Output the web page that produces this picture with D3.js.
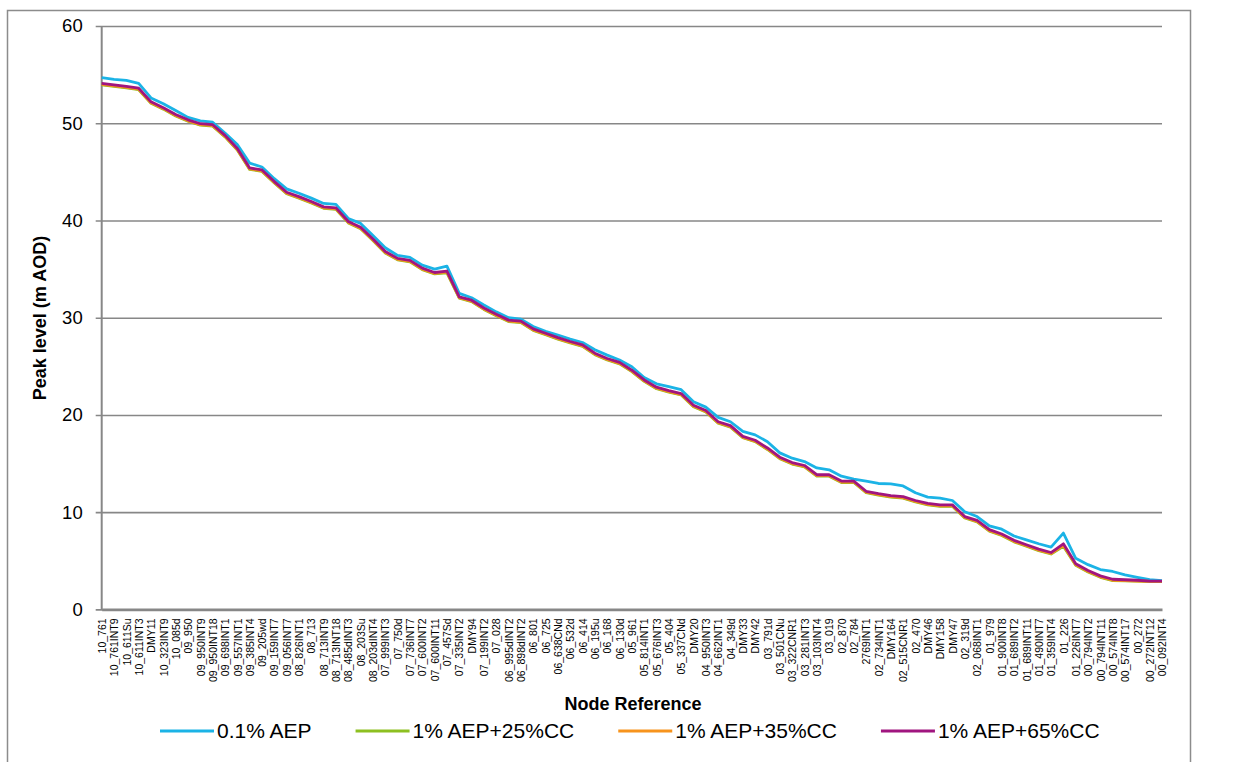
<!DOCTYPE html>
<html>
<head>
<meta charset="utf-8">
<script src="https://cdn.jsdelivr.net/npm/d3@7"></script>
<style>
  body { margin: 0; background: #fff; }
  text { font-family: "Liberation Sans", Arial, sans-serif; fill: #000; }
</style>
</head>
<body>
<script>
// Node labels shown under the axis (one per plotted node)
const nodeLabels = [
  "10_761", "10_761INT9", "10_611Su", "10_611INT3", "DMY11", "10_323INT9", "10_085d", "09_950",
  "09_950INT9", "09_950INT18", "09_698INT1", "09_557INT1", "09_385INT4", "09_205wd", "09_159INT7",
  "09_056INT7", "08_826INT1", "08_713", "08_713INT9", "08_713INT18", "08_485dINT3", "08_203Su",
  "08_203dINT4", "07_999INT3", "07_750d", "07_736INT7", "07_600INT2", "07_600INT11", "07_457Sd",
  "07_335INT2", "DMY94", "07_199INT2", "07_028", "06_995dINT2", "06_898dINT2", "06_801", "06_725",
  "06_638CNd", "06_532d", "06_414", "06_195u", "06_168", "06_130d", "05_961", "05_814INT1",
  "05_676INT3", "05_404", "05_337CNd", "DMY20", "04_950INT3", "04_662INT1", "04_349d", "DMY33",
  "DMY42", "03_791d", "03_501CNu", "03_322CNR1", "03_281INT3", "03_103INT4", "03_019", "02_870",
  "02_784", "2769INT1", "02_734INT1", "DMY164", "02_515CNR1", "02_470", "DMY46", "DMY158", "DMY47",
  "02_319d", "02_068INT1", "01_979", "01_900INT8", "01_689INT2", "01_689INT11", "01_490INT7",
  "01_359INT4", "01_226", "01_226INT7", "00_794INT2", "00_794INT11", "00_574INT8", "00_574INT17",
  "00_272", "00_272INT12", "00_092INT4"
];

// Peak levels (m AOD) per node, one array per event
const aep01 = [
  54.7, 54.5, 54.4, 54.1, 52.6, 52.0, 51.3, 50.6, 50.25, 50.1, 49.0, 47.8, 45.9, 45.5, 44.3,
  43.25, 42.8, 42.3, 41.75, 41.65, 40.2, 39.7, 38.45, 37.2, 36.4, 36.2, 35.4, 35.0, 35.3, 32.5,
  32.05, 31.3, 30.6, 30.0, 29.85, 29.1, 28.6, 28.2, 27.8, 27.45, 26.7, 26.15, 25.65, 24.95, 23.85,
  23.2, 22.9, 22.6, 21.35, 20.8, 19.75, 19.3, 18.3, 17.95, 17.25, 16.1, 15.55, 15.2, 14.55, 14.35,
  13.7, 13.4, 13.2, 12.95, 12.9, 12.7, 12.0, 11.55, 11.45, 11.2, 10.05, 9.55, 8.6, 8.25, 7.55,
  7.15, 6.75, 6.4, 7.85, 5.25, 4.6, 4.1, 3.9, 3.55, 3.3, 3.05, 2.95
];
const aep1cc25 = [
  53.95, 53.8, 53.65, 53.45, 52.05, 51.45, 50.75, 50.2, 49.8, 49.7, 48.6, 47.25, 45.25, 45.05, 43.85,
  42.75, 42.3, 41.8, 41.25, 41.15, 39.75, 39.15, 37.95, 36.65, 35.95, 35.75, 34.95, 34.5, 34.6, 32.0,
  31.65, 30.85, 30.2, 29.6, 29.5, 28.7, 28.25, 27.8, 27.4, 27.05, 26.2, 25.65, 25.25, 24.45, 23.45,
  22.7, 22.35, 22.05, 20.85, 20.3, 19.15, 18.75, 17.65, 17.25, 16.45, 15.5, 14.95, 14.65, 13.7, 13.7,
  13.05, 13.05, 12.0, 11.75, 11.55, 11.45, 11.05, 10.75, 10.6, 10.6, 9.4, 9.0, 8.05, 7.6, 6.95,
  6.5, 6.05, 5.7, 6.5, 4.55, 3.85, 3.3, 2.97, 2.93, 2.9, 2.87, 2.87
];
const aep1cc35 = [
  54.0, 53.85, 53.7, 53.5, 52.1, 51.5, 50.8, 50.25, 49.85, 49.75, 48.65, 47.3, 45.3, 45.1, 43.9,
  42.8, 42.35, 41.85, 41.3, 41.2, 39.8, 39.2, 38.0, 36.7, 36.0, 35.8, 35.0, 34.55, 34.7, 32.05,
  31.7, 30.9, 30.25, 29.65, 29.55, 28.75, 28.3, 27.85, 27.45, 27.1, 26.25, 25.7, 25.3, 24.5, 23.5,
  22.75, 22.4, 22.1, 20.9, 20.35, 19.2, 18.8, 17.7, 17.3, 16.5, 15.55, 15.0, 14.7, 13.75, 13.75,
  13.1, 13.1, 12.05, 11.8, 11.6, 11.5, 11.1, 10.8, 10.65, 10.65, 9.45, 9.05, 8.1, 7.65, 7.0,
  6.55, 6.1, 5.75, 6.6, 4.6, 3.9, 3.35, 3.0, 2.95, 2.92, 2.88, 2.88
];
const aep1cc65 = [
  54.1, 53.95, 53.8, 53.6, 52.2, 51.6, 50.9, 50.35, 49.95, 49.85, 48.75, 47.4, 45.4, 45.2, 44.0,
  42.9, 42.45, 41.95, 41.4, 41.3, 39.9, 39.3, 38.1, 36.8, 36.1, 35.9, 35.1, 34.65, 34.8, 32.15,
  31.8, 31.0, 30.35, 29.75, 29.65, 28.85, 28.4, 27.95, 27.55, 27.2, 26.35, 25.8, 25.4, 24.6, 23.6,
  22.85, 22.5, 22.2, 21.0, 20.45, 19.3, 18.9, 17.8, 17.4, 16.6, 15.65, 15.1, 14.8, 13.85, 13.85,
  13.2, 13.2, 12.15, 11.9, 11.7, 11.6, 11.2, 10.9, 10.75, 10.75, 9.55, 9.15, 8.2, 7.75, 7.1,
  6.65, 6.2, 5.85, 6.75, 4.7, 4.0, 3.45, 3.1, 3.05, 3.0, 2.9, 2.9
];

const seriesNames = ["0.1% AEP", "1% AEP+25%CC", "1% AEP+35%CC", "1% AEP+65%CC"];
const seriesColours = ["#1bb3e6", "#8dc021", "#f7941d", "#a0157f"];
const seriesValues = [aep01, aep1cc25, aep1cc35, aep1cc65];
const yTicks = [0, 10, 20, 30, 40, 50, 60];

// Display dimensions
const width = 1254;
const height = 762;
const plot = { left: 101.7, right: 1162, top: 26, bottom: 609.4 };

// Add SVG
const svg = d3.select("body")
    .append("svg")
    .attr("width", width)
    .attr("height", height);

// Chart border
svg.append("rect")
    .attr("x", 7.5)
    .attr("y", 10.5)
    .attr("width", 1183)
    .attr("height", 800)
    .attr("fill", "none")
    .attr("stroke", "#8c8c8c")
    .attr("stroke-width", 1.5);

// Scales
const x = d3.scalePoint()
    .domain(nodeLabels)
    .range([plot.left, plot.right]);

const y = d3.scaleLinear()
    .domain([0, 60])
    .range([plot.bottom, plot.top]);

// Gridlines + y axis
const yAxis = d3.axisLeft(y)
    .tickValues(yTicks)
    .tickSize(-(plot.right - plot.left + 6))
    .tickPadding(13);

const gy = svg.append("g")
    .attr("transform", `translate(${plot.left - 6},0)`)
    .call(yAxis);
gy.select(".domain").remove();
gy.selectAll(".tick line")
    .attr("stroke", "#878787")
    .attr("stroke-width", 1.6);
gy.selectAll(".tick text")
    .style("font-size", "18.5px");

// Vertical axis line
svg.append("line")
    .attr("x1", plot.left).attr("x2", plot.left)
    .attr("y1", plot.top).attr("y2", plot.bottom)
    .attr("stroke", "#878787")
    .attr("stroke-width", 2);

// X axis with rotated node labels
const xAxis = d3.axisBottom(x).tickSize(0).tickPadding(0);
const gx = svg.append("g")
    .attr("transform", `translate(0,${plot.bottom})`)
    .call(xAxis);
gx.select(".domain")
    .attr("stroke", "#878787")
    .attr("stroke-width", 2.8);
gx.selectAll(".tick text")
    .attr("transform", "rotate(-90)")
    .attr("x", -9)
    .attr("y", 0)
    .attr("dy", "0.35em")
    .style("text-anchor", "end")
    .style("font-size", "10.5px");

// Series lines
const line = d3.line()
    .x((d, i) => x(nodeLabels[i]))
    .y(d => y(d));

seriesValues.forEach((vals, s) => {
    svg.append("path")
        .datum(vals)
        .attr("fill", "none")
        .attr("stroke", seriesColours[s])
        .attr("stroke-width", 2.8)
        .attr("stroke-linejoin", "round")
        .attr("d", line);
});

// Axis titles
svg.append("text")
    .attr("transform", "translate(46,318) rotate(-90)")
    .attr("text-anchor", "middle")
    .style("font-size", "18px")
    .style("font-weight", "bold")
    .text("Peak level (m AOD)");

svg.append("text")
    .attr("x", 633)
    .attr("y", 710)
    .attr("text-anchor", "middle")
    .style("font-size", "18px")
    .style("font-weight", "bold")
    .text("Node Reference");

// Legend
const legend = svg.append("g").attr("transform", "translate(0,731)");
let lx = 160;
seriesNames.forEach((name, s) => {
    legend.append("line")
        .attr("x1", lx).attr("x2", lx + 54)
        .attr("y1", 0).attr("y2", 0)
        .attr("stroke", seriesColours[s])
        .attr("stroke-width", 2.8);
    const t = legend.append("text")
        .attr("x", lx + 57)
        .attr("y", 0)
        .attr("dy", "0.35em")
        .style("font-size", "21px")
        .text(name);
    lx += 57 + t.node().getComputedTextLength() + 44;
});
</script>
</body>
</html>
